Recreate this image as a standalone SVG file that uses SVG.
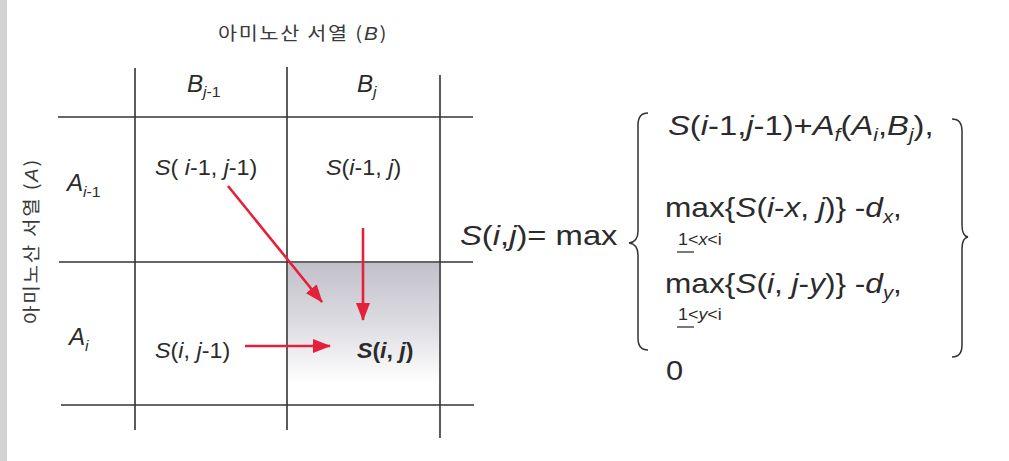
<svg xmlns="http://www.w3.org/2000/svg" width="1009" height="461" viewBox="0 0 1009 461">
<style>
text{font-family:"Liberation Sans","Noto Sans CJK KR",Arial,sans-serif;fill:#2b2b2b}
.ko{font-family:"Noto Sans CJK KR","Liberation Sans",sans-serif;font-size:18px;fill:#3a3a3a;letter-spacing:1.5px}
.it{font-style:italic}
.cell{font-size:22px}
.hd{font-size:23px}
.f{font-size:28px}
.sm{font-size:16px}
.grid{stroke:#333;stroke-width:1.6;fill:none}
.br{stroke:#333;stroke-width:1.5;fill:none}
.arr{stroke:#e5203a;stroke-width:2.6;fill:none;marker-end:url(#ah)}
</style>
<defs>
<linearGradient id="sh" x1="0" y1="0" x2="0" y2="1">
<stop offset="0" stop-color="#c2c1ca"/>
<stop offset="0.45" stop-color="#dedde3"/>
<stop offset="0.85" stop-color="#ffffff"/>
</linearGradient>
<marker id="ah" viewBox="0 0 18 14" refX="17" refY="7" markerWidth="18" markerHeight="14" markerUnits="userSpaceOnUse" orient="auto">
<path d="M0 0 L18 7 L0 14 Z" fill="#e5203a"/>
</marker>
</defs>
<rect width="1009" height="461" fill="#ffffff"/>
<rect x="0" y="0" width="7" height="461" fill="#d2d2d2"/>
<g id="shade"><rect x="288" y="263" width="151" height="141" fill="url(#sh)"/></g>
<g id="grid">
<line class="grid" x1="58" y1="117" x2="473" y2="117"/>
<line class="grid" x1="59" y1="262" x2="473" y2="262"/>
<line class="grid" x1="61" y1="405" x2="474" y2="405"/>
<line class="grid" x1="135" y1="68" x2="135" y2="430"/>
<line class="grid" x1="287" y1="67" x2="287" y2="430"/>
<line class="grid" x1="440" y1="75" x2="440" y2="438"/>
</g>
<g id="title-b"><text class="ko" transform="translate(218,40) scale(1.15,1)">아미노산 서열 (<tspan class="it" font-family="Liberation Sans">B</tspan>)</text></g>
<g id="title-a"><text class="ko" transform="translate(38,324) rotate(-90) scale(1.12,1)">아미노산 서열 (<tspan class="it" font-family="Liberation Sans">A</tspan>)</text></g>
<g id="hdr-bj1"><text class="hd" transform="translate(187,92) scale(1.05,1)"><tspan class="it">B</tspan><tspan class="it" font-size="15" dy="5">j</tspan><tspan font-size="15">-1</tspan></text></g>
<g id="hdr-bj"><text class="hd" transform="translate(357,92) scale(1.05,1)"><tspan class="it">B</tspan><tspan class="it" font-size="15" dy="5">j</tspan></text></g>
<g id="hdr-ai1"><text class="hd" transform="translate(67,191) scale(1.05,1)"><tspan class="it">A</tspan><tspan class="it" font-size="15" dy="6">i</tspan><tspan font-size="15">-1</tspan></text></g>
<g id="hdr-ai"><text class="hd" transform="translate(69,345) scale(1.05,1)"><tspan class="it">A</tspan><tspan class="it" font-size="15" dy="6">i</tspan></text></g>
<g id="cell-11"><text class="cell" transform="translate(155,175) scale(1.06,1)"><tspan class="it">S</tspan>( <tspan class="it">i</tspan>-1, <tspan class="it">j</tspan>-1)</text></g>
<g id="cell-12"><text class="cell" transform="translate(326,175) scale(1.06,1)"><tspan class="it">S</tspan>(<tspan class="it">i</tspan>-1, <tspan class="it">j</tspan>)</text></g>
<g id="cell-21"><text class="cell" transform="translate(155,358) scale(1.06,1)"><tspan class="it">S</tspan>(<tspan class="it">i</tspan>, <tspan class="it">j</tspan>-1)</text></g>
<g id="cell-22"><text class="cell" font-weight="bold" transform="translate(357,358) scale(1.05,1)"><tspan class="it">S</tspan>(<tspan class="it">i</tspan>, <tspan class="it">j</tspan>)</text></g>
<g id="connectors">
<line class="arr" x1="228" y1="186" x2="322" y2="302"/>
<line class="arr" x1="363" y1="228" x2="363" y2="320"/>
<line class="arr" x1="245" y1="346" x2="330" y2="346"/>
</g>
<g id="formula">
<text class="f" transform="translate(460,245) scale(1.17,1)"><tspan class="it">S</tspan>(<tspan class="it">i</tspan>,<tspan class="it">j</tspan>)= max</text>
<path class="br" d="M648 113 Q638 113 638 125 L638 231 Q638 242 629 243 Q638 244 638 255 L638 338 Q638 350 648 350"/>
<text class="f" transform="translate(668,135) scale(1.17,1)"><tspan class="it">S</tspan>(<tspan class="it">i</tspan>-1,<tspan class="it">j</tspan>-1)+<tspan class="it">A</tspan><tspan class="it" font-size="18" dy="6">f</tspan><tspan dy="-6">(</tspan><tspan class="it">A</tspan><tspan class="it" font-size="18" dy="6">i</tspan><tspan dy="-6">,</tspan><tspan class="it">B</tspan><tspan class="it" font-size="18" dy="6">j</tspan><tspan dy="-6">),</tspan></text>
<text class="f" transform="translate(665,217) scale(1.13,1)">max{<tspan class="it">S</tspan>(<tspan class="it">i</tspan>-<tspan class="it">x</tspan>, <tspan class="it">j</tspan>)} -<tspan class="it">d</tspan><tspan class="it" font-size="18" dy="6">x</tspan><tspan dy="-6">,</tspan></text>
<text class="sm" transform="translate(678,245) scale(1.12,1)">1&lt;<tspan class="it">x</tspan>&lt;i</text>
<line x1="677" y1="252" x2="694" y2="252" stroke="#333" stroke-width="1.3"/>
<text class="f" transform="translate(665,293) scale(1.13,1)">max{<tspan class="it">S</tspan>(<tspan class="it">i</tspan>, <tspan class="it">j</tspan>-<tspan class="it">y</tspan>)} -<tspan class="it">d</tspan><tspan class="it" font-size="18" dy="6">y</tspan><tspan dy="-6">,</tspan></text>
<text class="sm" transform="translate(678,320) scale(1.12,1)">1&lt;<tspan class="it">y</tspan>&lt;i</text>
<line x1="677" y1="327" x2="694" y2="327" stroke="#333" stroke-width="1.3"/>
<text class="f" font-size="26" transform="translate(666,380) scale(1.1,1)">0</text>
<path class="br" d="M952 119 Q962 119 962 131 L962 225 Q962 236 968 237 Q962 238 962 249 L962 345 Q962 357 952 357"/>
</g>
</svg>
